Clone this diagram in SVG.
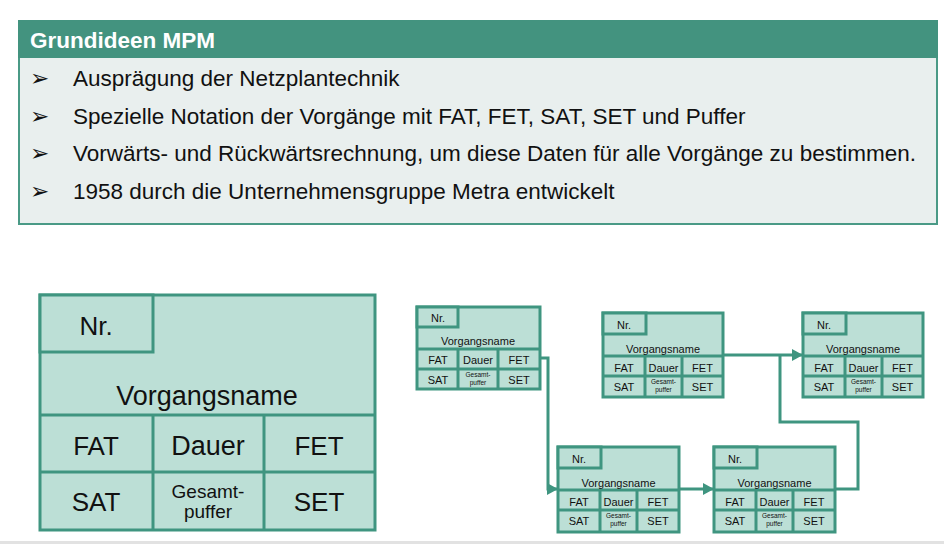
<svg xmlns="http://www.w3.org/2000/svg" width="944" height="544" viewBox="0 0 944 544">
  <defs>
    <style>
      .box { fill: #bcdfd6; stroke: #3f9580; stroke-width: 3; }
      .div { stroke: #3f9580; stroke-width: 3; fill: none; }
      .lbl { font-family: "Liberation Sans", Arial, sans-serif; fill: #111; text-anchor: middle; }
      .big { font-size: 26px; }
      .bigname { font-size: 27px; }
      .bigsub { font-size: 19px; }
      .sm { font-size: 11px; }
      .tiny { font-size: 6.5px; }
      .bul { font-family: "Liberation Sans", Arial, sans-serif; font-size: 22.5px; fill: #111; }
      .mark { font-family: "DejaVu Sans", sans-serif; font-size: 23px; fill: #111; }
      .conn { stroke: #3f9580; stroke-width: 3; fill: none; }
    </style>
    <marker id="arrow" markerUnits="userSpaceOnUse" markerWidth="11" markerHeight="12" refX="11" refY="6" orient="auto">
      <path d="M0,0 L11,6 L0,12 z" fill="#3f9580"/>
    </marker>
  </defs>

  <rect width="944" height="544" fill="#ffffff"/>
  <rect x="0" y="541" width="944" height="3" fill="#e2e2e2"/>

  <!-- info panel -->
  <g id="panel">
    <rect x="19" y="21" width="918" height="203" fill="#e9efee" stroke="#4a9a86" stroke-width="2"/>
    <rect x="18" y="20" width="920" height="38" fill="#43937f"/>
    <text x="30" y="48" font-family="Liberation Sans, Arial, sans-serif" font-size="22.5" font-weight="bold" fill="#ffffff">Grundideen MPM</text>
    <text class="mark" x="30" y="86">➢</text>
    <text class="bul" x="73" y="86">Ausprägung der Netzplantechnik</text>
    <text class="mark" x="30" y="123.5">➢</text>
    <text class="bul" x="73" y="123.5">Spezielle Notation der Vorgänge mit FAT, FET, SAT, SET und Puffer</text>
    <text class="mark" x="30" y="161">➢</text>
    <text class="bul" x="73" y="161">Vorwärts- und Rückwärtsrechnung, um diese Daten für alle Vorgänge zu bestimmen.</text>
    <text class="mark" x="30" y="198.5">➢</text>
    <text class="bul" x="73" y="198.5">1958 durch die Unternehmensgruppe Metra entwickelt</text>
  </g>

  <!-- legend node -->
  <g id="legend">
    <rect class="box" x="40" y="295" width="335" height="235" stroke-width="3.5"/>
    <rect class="box" x="40" y="295" width="113" height="57" stroke-width="3.5"/>
    <path class="div" stroke-width="3.5" d="M40,415 H375 M40,472 H375 M153,415 V530 M264,415 V530"/>
    <text class="lbl big" x="96" y="335">Nr.</text>
    <text class="lbl bigname" x="207" y="405">Vorgangsname</text>
    <text class="lbl big" x="96" y="455">FAT</text>
    <text class="lbl bigname" x="208" y="455">Dauer</text>
    <text class="lbl big" x="319" y="455">FET</text>
    <text class="lbl big" x="96" y="511">SAT</text>
    <text class="lbl bigsub" x="208" y="498">Gesamt-</text>
    <text class="lbl bigsub" x="208" y="518">puffer</text>
    <text class="lbl big" x="319" y="511">SET</text>
  </g>

  <!-- connectors -->
  <g id="connectors">
    <path class="conn" d="M540,358 H548 V489 H558" marker-end="url(#arrow)"/>
    <path class="conn" d="M723,355 H803" marker-end="url(#arrow)"/>
    <path class="conn" d="M835,489 H858 V422 H780 V355"/>
    <path class="conn" d="M679,489 H714" marker-end="url(#arrow)"/>
  </g>

  <!-- activity 1 -->
  <g id="node1">
    <rect class="box" x="417" y="307" width="123" height="82"/>
    <rect class="box" x="417" y="307" width="41" height="20"/>
    <path class="div" d="M417,349 H540 M417,369 H540 M458,349 V389 M498,349 V389"/>
    <text class="lbl sm" x="438" y="322">Nr.</text>
    <text class="lbl sm" x="478" y="345">Vorgangsname</text>
    <text class="lbl sm" x="438" y="364">FAT</text>
    <text class="lbl sm" x="478" y="364">Dauer</text>
    <text class="lbl sm" x="519" y="364">FET</text>
    <text class="lbl sm" x="438" y="384">SAT</text>
    <text class="lbl tiny" x="478" y="377">Gesamt-</text>
    <text class="lbl tiny" x="478" y="384.5">puffer</text>
    <text class="lbl sm" x="519" y="384">SET</text>
  </g>

  <!-- activity 2 -->
  <g id="node2">
    <rect class="box" x="603" y="313" width="120" height="84"/>
    <rect class="box" x="603" y="313" width="43" height="21"/>
    <path class="div" d="M603,356 H723 M603,376 H723 M645,356 V397 M682,356 V397"/>
    <text class="lbl sm" x="624" y="329">Nr.</text>
    <text class="lbl sm" x="663" y="353">Vorgangsname</text>
    <text class="lbl sm" x="624" y="372">FAT</text>
    <text class="lbl sm" x="663.5" y="372">Dauer</text>
    <text class="lbl sm" x="702.5" y="372">FET</text>
    <text class="lbl sm" x="624" y="391">SAT</text>
    <text class="lbl tiny" x="663.5" y="384">Gesamt-</text>
    <text class="lbl tiny" x="663.5" y="391.5">puffer</text>
    <text class="lbl sm" x="702.5" y="391">SET</text>
  </g>

  <!-- activity 3 -->
  <g id="node3">
    <rect class="box" x="803" y="313" width="120" height="84"/>
    <rect class="box" x="803" y="313" width="43" height="21"/>
    <path class="div" d="M803,356 H923 M803,376 H923 M845,356 V397 M882,356 V397"/>
    <text class="lbl sm" x="824" y="329">Nr.</text>
    <text class="lbl sm" x="863" y="353">Vorgangsname</text>
    <text class="lbl sm" x="824" y="372">FAT</text>
    <text class="lbl sm" x="863.5" y="372">Dauer</text>
    <text class="lbl sm" x="902.5" y="372">FET</text>
    <text class="lbl sm" x="824" y="391">SAT</text>
    <text class="lbl tiny" x="863.5" y="384">Gesamt-</text>
    <text class="lbl tiny" x="863.5" y="391.5">puffer</text>
    <text class="lbl sm" x="902.5" y="391">SET</text>
  </g>

  <!-- activity 4 -->
  <g id="node4">
    <rect class="box" x="558" y="447" width="121" height="85"/>
    <rect class="box" x="558" y="447" width="43" height="21"/>
    <path class="div" d="M558,490 H679 M558,510 H679 M600,490 V532 M637,490 V532"/>
    <text class="lbl sm" x="579" y="463">Nr.</text>
    <text class="lbl sm" x="618.5" y="487">Vorgangsname</text>
    <text class="lbl sm" x="579" y="506">FAT</text>
    <text class="lbl sm" x="618.5" y="506">Dauer</text>
    <text class="lbl sm" x="658" y="506">FET</text>
    <text class="lbl sm" x="579" y="525">SAT</text>
    <text class="lbl tiny" x="618.5" y="518">Gesamt-</text>
    <text class="lbl tiny" x="618.5" y="525.5">puffer</text>
    <text class="lbl sm" x="658" y="525">SET</text>
  </g>

  <!-- activity 5 -->
  <g id="node5">
    <rect class="box" x="714" y="447" width="121" height="85"/>
    <rect class="box" x="714" y="447" width="43" height="21"/>
    <path class="div" d="M714,490 H835 M714,510 H835 M756,490 V532 M793,490 V532"/>
    <text class="lbl sm" x="735" y="463">Nr.</text>
    <text class="lbl sm" x="774.5" y="487">Vorgangsname</text>
    <text class="lbl sm" x="735" y="506">FAT</text>
    <text class="lbl sm" x="774.5" y="506">Dauer</text>
    <text class="lbl sm" x="814" y="506">FET</text>
    <text class="lbl sm" x="735" y="525">SAT</text>
    <text class="lbl tiny" x="774.5" y="518">Gesamt-</text>
    <text class="lbl tiny" x="774.5" y="525.5">puffer</text>
    <text class="lbl sm" x="814" y="525">SET</text>
  </g>
</svg>
